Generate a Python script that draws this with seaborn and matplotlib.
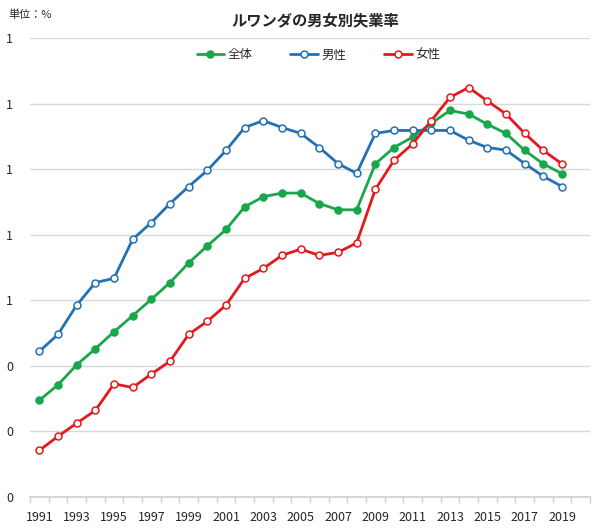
import numpy as np
import pandas as pd
import matplotlib
matplotlib.use("Agg")
import matplotlib.pyplot as plt
import seaborn as sns

years = list(range(1991, 2020))

# 全体
total = [0.295, 0.342, 0.403, 0.452, 0.504, 0.553, 0.603, 0.654, 0.714, 0.766,
         0.816, 0.885, 0.916, 0.927, 0.927, 0.895, 0.876, 0.876, 1.016, 1.066,
         1.098, 1.140, 1.179, 1.168, 1.137, 1.109, 1.057, 1.016, 0.986]
# 男性
male = [0.444, 0.496, 0.585, 0.654, 0.667, 0.786, 0.837, 0.895, 0.947, 0.996,
        1.057, 1.127, 1.148, 1.127, 1.109, 1.066, 1.017, 0.987, 1.109, 1.118,
        1.118, 1.118, 1.118, 1.088, 1.066, 1.058, 1.017, 0.978, 0.947]
# 女性
female = [0.142, 0.185, 0.225, 0.264, 0.345, 0.334, 0.375, 0.414, 0.496, 0.536,
          0.585, 0.667, 0.697, 0.737, 0.756, 0.737, 0.746, 0.775, 0.938, 1.027,
          1.077, 1.148, 1.219, 1.249, 1.208, 1.168, 1.109, 1.057, 1.016]

series_names = ["全体", "男性", "女性"]
colors = {"全体": "#1aa64b", "男性": "#2371b5", "女性": "#e3191c"}
faces = {"全体": "#1aa64b", "男性": "white", "女性": "white"}

df = pd.DataFrame({"year": years * 3,
                   "rate": total + male + female,
                   "series": sum([[n] * len(years) for n in series_names], [])})

sns.set_theme(style="white")
plt.rcParams['font.family'] = ['Noto Sans CJK JP', 'DejaVu Sans']

fig = plt.figure(figsize=(6.09, 5.28), dpi=100)
ax = fig.add_axes([30 / 609, 1 - 497 / 528, 560 / 609, 459 / 528])

for name in series_names:
    sns.lineplot(data=df[df["series"] == name], x="year", y="rate", ax=ax,
                 color=colors[name], linewidth=2, marker="o", markersize=5,
                 markerfacecolor=faces[name], markeredgecolor=colors[name],
                 markeredgewidth=1.1, label=name)

ax.set_xlim(1990.5, 2020.5)
ax.set_ylim(0, 1.4)
ax.set_yticks(np.arange(0, 1.41, 0.2))
ax.yaxis.set_major_formatter(matplotlib.ticker.FormatStrFormatter("%.0f"))
ax.set_xticks(range(1991, 2020, 2))
ax.set_xticks(np.arange(1990.5, 2021, 1), minor=True)
ax.tick_params(axis="x", which="major", length=0, labelsize=9, pad=10)
ax.tick_params(axis="x", which="minor", length=4, color="#d0d0d0", bottom=True)
ax.tick_params(axis="y", length=0, labelsize=9, pad=12)
ax.grid(axis="y", color="#d9d9d9", linewidth=1)
ax.set_xlabel("")
ax.set_ylabel("")
for s in ["top", "right", "left"]:
    ax.spines[s].set_visible(False)
ax.spines["bottom"].set_color("#d0d0d0")

ax.legend(loc="center", bbox_to_anchor=(0.515, 0.963), ncol=3, frameon=False,
          fontsize=9, handlelength=2.2, columnspacing=3.0, handletextpad=0.3)

fig.text(315 / 609, 1 - 20 / 528, "ルワンダの男女別失業率", ha="center", va="center",
         fontsize=11, fontweight="bold")
fig.text(8 / 609, 1 - 15 / 528, "単位：%", ha="left", va="center", fontsize=8)

fig.savefig("out.png", dpi=100)
